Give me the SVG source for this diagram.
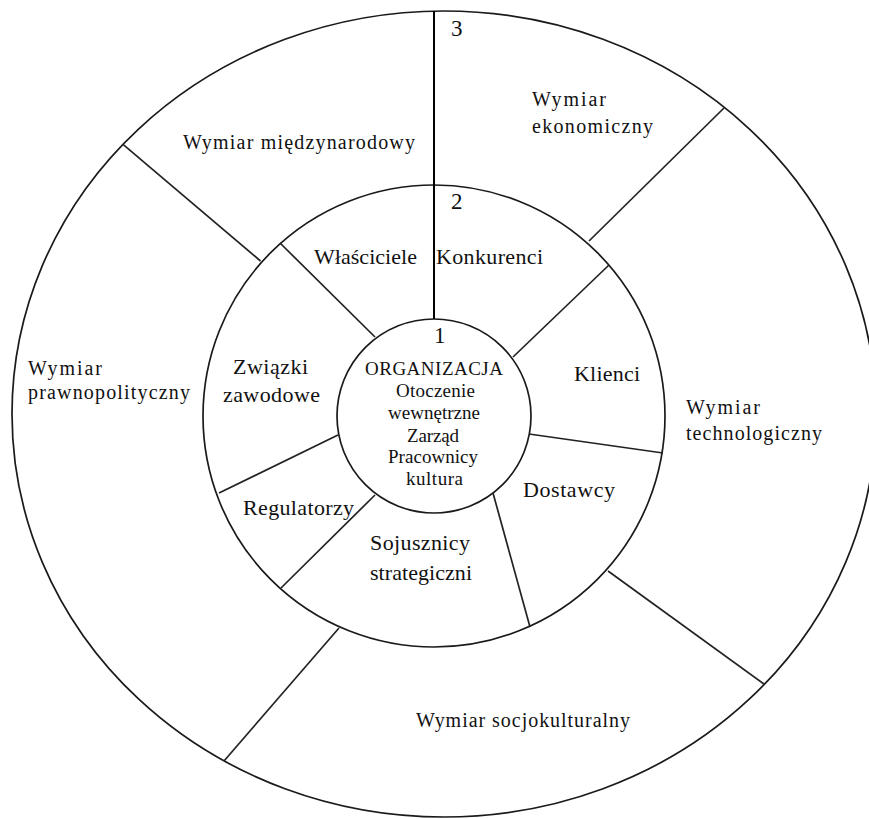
<svg xmlns="http://www.w3.org/2000/svg" width="869" height="819" viewBox="0 0 869 819">
  <style>
    .ring { fill: none; stroke: #1a1a1a; stroke-width: 1.7; }
    .div { stroke: #222; stroke-width: 1.7; fill: none; }
    .axis { stroke: #000; stroke-width: 2; }
    text { font-family: "Liberation Serif", "Times New Roman", serif; fill: #111; }
    .lbl { font-size: 20px; }
    .mid { font-size: 22px; }
    .core { font-size: 19px; }
    .num { font-size: 23px; }
  </style>
  <rect width="869" height="819" fill="#fff"/>

  <!-- concentric layers: macro environment, close environment, organisation -->
  <g id="layer-outer">
    <ellipse class="ring" cx="444" cy="414" rx="432" ry="403"/>
  </g>
  <g id="layer-middle">
    <circle class="ring" cx="434" cy="416" r="231"/>
  </g>
  <g id="layer-inner">
    <circle class="ring" cx="434" cy="416" r="97"/>
  </g>

  <!-- sector dividers -->
  <g id="connectors">
    <line class="axis" x1="434" y1="11" x2="434" y2="319"/>
    <line class="div" x1="260.5" y1="261" x2="123" y2="144.3"/>
    <line class="div" x1="589" y1="241" x2="724" y2="108"/>
    <line class="div" x1="608" y1="571" x2="764" y2="684"/>
    <line class="div" x1="339" y1="628" x2="224" y2="761"/>
    <line class="div" x1="375" y1="337" x2="280" y2="243"/>
    <line class="div" x1="513" y1="357" x2="609" y2="265"/>
    <line class="div" x1="529" y1="434" x2="663" y2="453"/>
    <line class="div" x1="493" y1="493" x2="530" y2="627"/>
    <line class="div" x1="375" y1="495" x2="281" y2="588"/>
    <line class="div" x1="338" y1="435" x2="219" y2="493"/>
  </g>

  <!-- layer numbers -->
  <g id="num-3"><text class="num" x="451" y="36">3</text></g>
  <g id="num-2"><text class="num" x="451" y="209">2</text></g>
  <g id="num-1"><text class="num" x="434" y="343">1</text></g>

  <!-- outer sectors -->
  <g id="wymiar-miedzynarodowy">
    <text class="lbl" x="183" y="149" textLength="232" lengthAdjust="spacing">Wymiar międzynarodowy</text>
  </g>
  <g id="wymiar-ekonomiczny">
    <text class="lbl" x="532" y="106" textLength="74" lengthAdjust="spacing">Wymiar</text>
    <text class="lbl" x="532" y="133" textLength="121" lengthAdjust="spacing">ekonomiczny</text>
  </g>
  <g id="wymiar-technologiczny">
    <text class="lbl" x="686" y="414" textLength="74" lengthAdjust="spacing">Wymiar</text>
    <text class="lbl" x="686" y="440" textLength="136" lengthAdjust="spacing">technologiczny</text>
  </g>
  <g id="wymiar-socjokulturalny">
    <text class="lbl" x="416" y="727" textLength="214" lengthAdjust="spacing">Wymiar socjokulturalny</text>
  </g>
  <g id="wymiar-prawnopolityczny">
    <text class="lbl" x="28" y="375" textLength="74" lengthAdjust="spacing">Wymiar</text>
    <text class="lbl" x="28" y="399" textLength="162" lengthAdjust="spacing">prawnopolityczny</text>
  </g>

  <!-- middle sectors -->
  <g id="wlasciciele">
    <text class="mid" x="314" y="264" textLength="103" lengthAdjust="spacing">Właściciele</text>
  </g>
  <g id="konkurenci">
    <text class="mid" x="436" y="264" textLength="107" lengthAdjust="spacing">Konkurenci</text>
  </g>
  <g id="klienci">
    <text class="mid" x="574" y="381" textLength="66" lengthAdjust="spacing">Klienci</text>
  </g>
  <g id="dostawcy">
    <text class="mid" x="523" y="497" textLength="92" lengthAdjust="spacing">Dostawcy</text>
  </g>
  <g id="sojusznicy">
    <text class="mid" x="370" y="550" textLength="100" lengthAdjust="spacing">Sojusznicy</text>
    <text class="mid" x="370" y="580" textLength="102" lengthAdjust="spacing">strategiczni</text>
  </g>
  <g id="regulatorzy">
    <text class="mid" x="243" y="515" textLength="111" lengthAdjust="spacing">Regulatorzy</text>
  </g>
  <g id="zwiazki">
    <text class="mid" x="233" y="374" textLength="75" lengthAdjust="spacing">Związki</text>
    <text class="mid" x="223" y="402" textLength="97" lengthAdjust="spacing">zawodowe</text>
  </g>

  <!-- organisation core -->
  <g id="organizacja">
    <text class="core" x="365" y="375" textLength="138" lengthAdjust="spacing">ORGANIZACJA</text>
    <text class="core" x="396" y="397" textLength="79" lengthAdjust="spacing">Otoczenie</text>
    <text class="core" x="388" y="419" textLength="92" lengthAdjust="spacing">wewnętrzne</text>
    <text class="core" x="407" y="442" textLength="52" lengthAdjust="spacing">Zarząd</text>
    <text class="core" x="388" y="463" textLength="90" lengthAdjust="spacing">Pracownicy</text>
    <text class="core" x="406" y="485" textLength="57" lengthAdjust="spacing">kultura</text>
  </g>
</svg>
